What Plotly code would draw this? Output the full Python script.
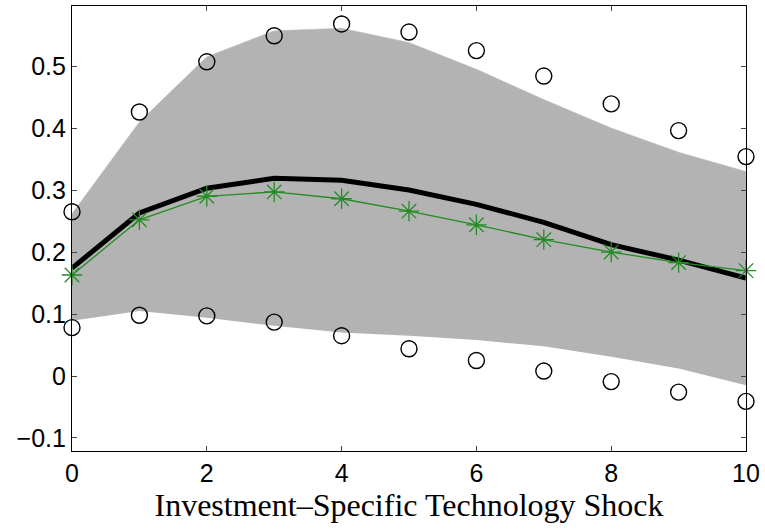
import plotly.graph_objects as go

horizon = [0, 1, 2, 3, 4, 5, 6, 7, 8, 9, 10]
band_upper = [0.262, 0.41, 0.515, 0.557, 0.561, 0.538, 0.495, 0.446, 0.400, 0.361, 0.330]
band_lower = [0.089, 0.105, 0.094, 0.081, 0.070, 0.065, 0.058, 0.048, 0.031, 0.012, -0.015]
circ_upper = [0.265, 0.426, 0.507, 0.549, 0.568, 0.555, 0.525, 0.484, 0.439, 0.396, 0.354]
circ_lower = [0.078, 0.098, 0.097, 0.087, 0.065, 0.044, 0.025, 0.008, -0.009, -0.026, -0.041]
model_line = [0.174, 0.263, 0.303, 0.319, 0.316, 0.300, 0.277, 0.248, 0.212, 0.187, 0.158]
star_line = [0.163, 0.252, 0.290, 0.297, 0.286, 0.266, 0.244, 0.220, 0.200, 0.183, 0.170]

x_ticks = [0, 2, 4, 6, 8, 10]
y_ticks = [-0.1, 0, 0.1, 0.2, 0.3, 0.4, 0.5]
y_tick_text = ["\u22120.1", "0", "0.1", "0.2", "0.3", "0.4", "0.5"]

fig = go.Figure()
fig.add_trace(go.Scatter(x=horizon, y=band_lower, mode="lines",
                         line=dict(width=0, color="rgb(179,179,179)"),
                         showlegend=False, hoverinfo="skip"))
fig.add_trace(go.Scatter(x=horizon, y=band_upper, mode="lines", fill="tonexty",
                         fillcolor="rgb(179,179,179)",
                         line=dict(width=0.6, color="rgb(190,190,190)"),
                         showlegend=False, hoverinfo="skip"))
fig.add_trace(go.Scatter(x=horizon, y=model_line, mode="lines",
                         line=dict(width=5, color="black"), showlegend=False))
fig.add_trace(go.Scatter(x=horizon, y=star_line, mode="lines+markers",
                         line=dict(width=1.3, color="rgb(34,139,34)"),
                         marker=dict(symbol="asterisk-open", size=17,
                                     line=dict(width=1.3, color="rgb(34,139,34)")),
                         cliponaxis=False, showlegend=False))
for ys in (circ_upper, circ_lower):
    fig.add_trace(go.Scatter(x=horizon, y=ys, mode="markers",
                             marker=dict(symbol="circle-open", size=16, color="black",
                                         line=dict(width=1.4, color="black")),
                             cliponaxis=False, showlegend=False))

fig.update_layout(
    width=765, height=529,
    margin=dict(l=72, r=19, t=6, b=78),
    plot_bgcolor="white", paper_bgcolor="white",
    font=dict(family="Liberation Sans, Arial, sans-serif", size=25, color="black"),
)
fig.update_xaxes(range=[0, 10], tickvals=x_ticks, ticks="inside", ticklen=5,
                 showline=True, linecolor="black", linewidth=1.2, mirror="ticks",
                 showgrid=False, zeroline=False,
                 title=dict(text="Investment\u2013Specific Technology Shock",
                            font=dict(family="Liberation Serif, Times New Roman, serif", size=32),
                            standoff=0))
fig.update_yaxes(range=[-0.121, 0.597], tickvals=y_ticks, ticktext=y_tick_text,
                 ticks="inside", ticklen=5,
                 showline=True, linecolor="black", linewidth=1.2, mirror="ticks",
                 showgrid=False, zeroline=False)

fig.write_html("out.html")
